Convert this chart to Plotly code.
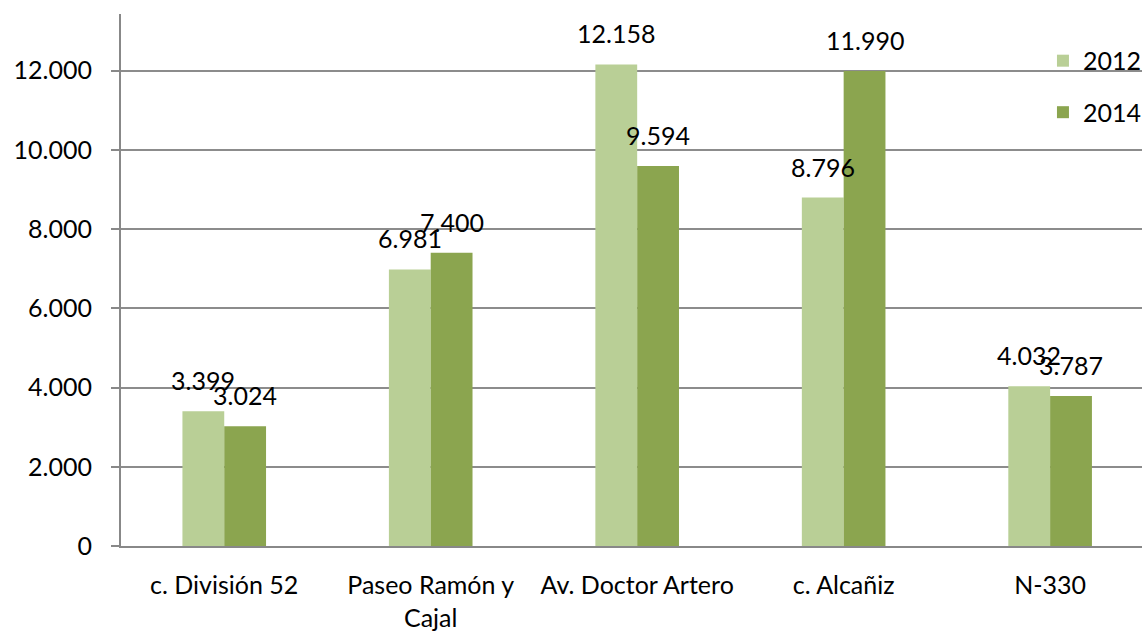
import plotly.graph_objects as go

categories = ["c. División 52", "Paseo Ramón y Cajal", "Av. Doctor Artero", "c. Alcañiz", "N-330"]
tick_labels = ["c. División 52", "Paseo Ramón y<br>Cajal", "Av. Doctor Artero", "c. Alcañiz", "N-330"]
values_2012 = [3399, 6981, 12158, 8796, 4032]
values_2014 = [3024, 7400, 9594, 11990, 3787]
y_ticks = [0, 2000, 4000, 6000, 8000, 10000, 12000]
y_tick_labels = ["0", "2.000", "4.000", "6.000", "8.000", "10.000", "12.000"]

FONT = "Lato, 'Open Sans', sans-serif"
FS = 25
C2012 = "#B9CF96"
C2014 = "#8BA54F"

def fmt(v):
    return f"{v:,}".replace(",", ".")

fig = go.Figure()
fig.add_trace(go.Bar(x=categories, y=values_2012, name="2012", marker_color=C2012,
                     marker_line_width=0, legendgroup="a"))
fig.add_trace(go.Bar(x=categories, y=values_2014, name="2014", marker_color=C2014,
                     marker_line_width=0, legendgroup="b"))

annotations = []
for cat, v in zip(categories, values_2012):
    annotations.append(dict(x=cat, y=v, text=fmt(v), showarrow=False, xanchor="center",
                            yanchor="bottom", xshift=-21, yshift=14,
                            font=dict(family=FONT, size=FS, color="#000")))
for cat, v in zip(categories, values_2014):
    annotations.append(dict(x=cat, y=v, text=fmt(v), showarrow=False, xanchor="center",
                            yanchor="bottom", xshift=21, yshift=14,
                            font=dict(family=FONT, size=FS, color="#000")))

fig.update_layout(
    width=1147, height=632,
    margin=dict(l=121, r=0, t=14, b=84, pad=0),
    paper_bgcolor="white", plot_bgcolor="white",
    barmode="group", bargap=0.595, bargroupgap=0,
    font=dict(family=FONT, size=FS, color="#000"),
    showlegend=True,
    legend=dict(x=0.903, y=0.955, xanchor="left", yanchor="top",
                bgcolor="rgba(0,0,0,0)", font=dict(size=FS),
                tracegroupgap=16, traceorder="grouped"),
    annotations=annotations,
)
fig.update_xaxes(
    type="category", categoryorder="array", categoryarray=categories,
    tickvals=categories, ticktext=tick_labels,
    range=[-0.5, 4.445],
    showline=True, linecolor="#888888", linewidth=2,
    showgrid=False, ticks="", ticklabelstandoff=16,
    tickfont=dict(family=FONT, size=FS, color="#000"),
)
fig.update_yaxes(
    range=[0, 13430],
    tickvals=y_ticks, ticktext=y_tick_labels,
    showline=True, linecolor="#888888", linewidth=2,
    showgrid=True, gridcolor="#8c8c8c", gridwidth=1.5,
    zeroline=False,
    ticks="outside", ticklen=8, tickcolor="#888888", tickwidth=1.5,
    ticklabelstandoff=14,
    tickfont=dict(family=FONT, size=FS, color="#000"),
)

fig.write_html(
    "out.html",
    config={"displayModeBar": False},
    post_script="document.body.style.margin='0';document.body.style.overflow='hidden';",
)
